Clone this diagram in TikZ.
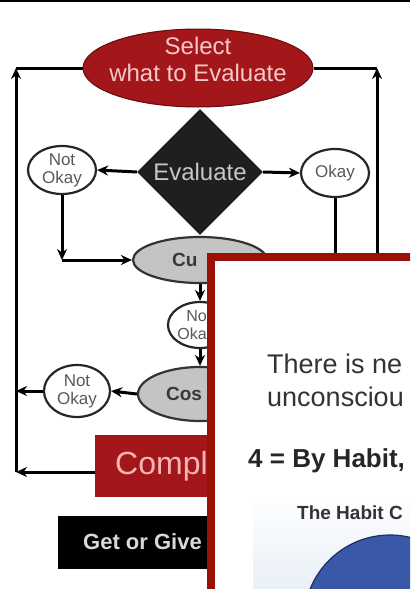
\documentclass[tikz,border=0pt]{standalone}
\usepackage{fontspec}
\setmainfont{Liberation Sans}
\usetikzlibrary{positioning,shapes.geometric,arrows.meta}

\definecolor{flowred}{RGB}{163,22,26}
\definecolor{cardred}{RGB}{155,17,5}
\definecolor{pinktext}{RGB}{246,200,200}
\definecolor{ovalgray}{RGB}{196,196,196}
\definecolor{circblue}{RGB}{58,88,168}
\definecolor{fadeblue}{RGB}{232,239,247}

\newcommand{\pxsize}[2]{\fontsize{#1}{#2}\selectfont}

\begin{document}
\begin{tikzpicture}[x=1pt, y=-1pt, >={Stealth[length=11pt,width=10pt]}, node distance=4pt]
  \tikzstyle{wire}=[line width=3pt]
  \tikzstyle{pick}=[ellipse, draw=flowred!60!black, line width=1pt, fill=flowred, inner sep=0pt, minimum width=230pt, minimum height=78pt]
  \tikzstyle{picktext}=[align=center, text=pinktext, font=\pxsize{24}{27}]
  \tikzstyle{check}=[diamond, fill=black!88, minimum size=126pt, inner sep=0pt, text=black!22, font=\pxsize{24}{24}]
  \tikzstyle{verdict}=[ellipse, draw=black!85, line width=2.2pt, fill=white, align=center, inner sep=0pt, minimum width=68pt, minimum height=48pt, text=black!65, font=\pxsize{17}{18}]
  \tikzstyle{verdicttext}=[align=right, inner sep=0pt, text=black!65, font=\pxsize{16}{18}]
  \tikzstyle{stage}=[ellipse, draw=black!80, line width=2.2pt, fill=ovalgray, inner sep=0pt]
  \tikzstyle{bar}=[rectangle, inner sep=0pt, minimum width=150pt, anchor=west]
  \tikzstyle{partword}=[inner sep=0pt, anchor=west]

  \useasboundingbox (0,0) rectangle (410,589);
  \clip (0,0) rectangle (410,589);
  \fill[white] (0,0) rectangle (410,589);
  \draw[line width=2.5pt] (0,1) -- (410,1);

  % flow chart nodes
  \node[pick] (sel) at (198,68) {};
  \node[picktext, yshift=9pt] (seltxt) at (sel) {Select\\what to Evaluate};
  \node[check] (eval) at (200,172) {Evaluate};
  \node[verdict] (notok) at (62,170) {Not\\Okay};
  \node[verdict] (okay) at (335,173) {Okay};
  \node[stage, minimum width=134pt, minimum height=46pt] (cur) at (200,260) {};
  \node[verdict, minimum width=64pt, minimum height=46pt] (midnot) at (200,325) {};
  \node[stage, minimum width=124pt, minimum height=54pt] (cos) at (200,394) {};
  \node[verdict, minimum width=66pt, minimum height=52pt] (cosnot) at (77,391) {Not\\Okay};
  \node[bar, fill=flowred, minimum height=62pt] (compl) at (95,466) {};
  \node[bar, fill=black, minimum height=53pt] (getgive) at (58,542) {};

  \node[partword, right=40pt of cur.west, text=black!78, font=\bfseries\pxsize{19}{19}] (curtxt) {Cu};
  \node[verdicttext, anchor=east, xshift=7pt] (midtxt) at (midnot.center) {No\\Oka};
  \node[partword, right=29pt of cos.west, text=black!78, font=\bfseries\pxsize{19}{19}] (costxt) {Cos};
  \node[partword, right=20pt of compl.west, text=pinktext!90!red, font=\pxsize{32}{32}] (compltxt) {Compl};
  \node[partword, right=25pt of getgive.west, text=black!15, font=\bfseries\pxsize{22}{22}] (getgivetxt) {Get or Give};

  % loop corners
  \coordinate (lbot) at (16,472);
  \coordinate (ltop) at (16,68);
  \coordinate (rtop) at (377,68);
  \coordinate (rlow) at (377,300);
  \coordinate (olow) at (okay.south |- rlow);
  \coordinate (bend) at (notok.south |- cur.west);

  \draw[wire,->] (eval.west) -- (notok.east);
  \draw[wire,->] (eval.east) -- (okay.west);
  \draw[wire,->] (notok.south) -- (bend);
  \draw[wire,->] (bend) -- (cur.west);
  \draw[wire,->] (cur.south) -- (midnot.north);
  \draw[wire,->] (midnot.south) -- (cos.north);
  \draw[wire,->] (cos.west) -- (cosnot.east);
  \draw[wire,->] (cosnot.west) -- (cosnot.west -| lbot);
  \draw[wire,->] (compl.west |- lbot) -- (lbot);
  \draw[wire,->] (lbot) -- (ltop);
  \draw[wire] (ltop) -- (sel.west);
  \draw[wire] (okay.south) -- (olow);
  \draw[wire,->] (rlow) -- (rtop);
  \draw[wire] (rtop) -- (sel.east);

  % card laid over the chart
  \draw[draw=cardred, line width=8pt, fill=white] (211,257) rectangle (440,620);
  \shade[top color=white, bottom color=fadeblue] (253,492) rectangle (415,595);
  \draw[fill=circblue, draw=circblue!55!black, line width=1.2pt] (390,621) circle[radius=86pt];

  \node[partword, anchor=base west, text=black!80, font=\pxsize{27}{27}] (line1) at (267,373) {There is ne};
  \node[partword, anchor=base west, text=black!80, font=\pxsize{27}{27}] (line2) at (267,406) {unconsciou};
  \node[partword, anchor=base west, text=black!85, font=\bfseries\pxsize{26}{26}] (habit) at (248,467) {4 = By Habit,};
  \node[partword, anchor=base west, text=black!80, font=\bfseries\pxsize{19}{19}] (habitc) at (297,519) {The Habit C};
\end{tikzpicture}
\end{document}
